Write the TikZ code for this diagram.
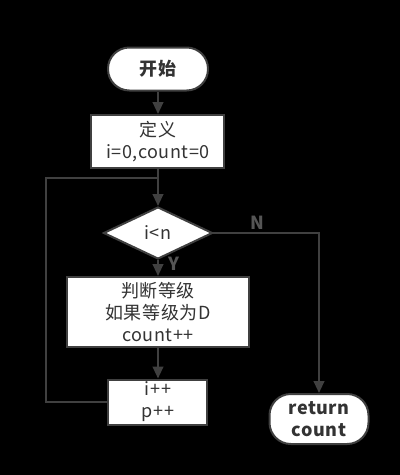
\documentclass[tikz,border=0pt]{standalone}
\usepackage{fontspec}
\setmainfont{Noto Sans CJK SC}[LetterSpace=3]
\usetikzlibrary{shapes.geometric,arrows.meta,positioning}

\definecolor{linegray}{HTML}{404040}
\definecolor{textgray}{HTML}{333333}
\definecolor{labelgray}{HTML}{555555}
\newcommand{\flowfont}{\fontsize{13.5}{16.5}\selectfont}

\tikzset{
  box/.style={draw=linegray, fill=white, line width=1.5pt, text=textgray,
    align=center, font=\flowfont, inner sep=0pt},
  term/.style={box, rounded corners=16pt, font=\flowfont\bfseries},
  decide/.style={box, diamond, aspect=2.1},
  wire/.style={draw=linegray, line width=1.5pt},
  flow/.style={wire, -{Triangle[width=8pt,length=9pt]}},
  lbl/.style={text=labelgray, font=\flowfont\bfseries, inner sep=0pt}
}

\begin{document}
\begin{tikzpicture}
    \fill[black] (-118.5pt,-304.5pt) rectangle (181.5pt,51.75pt);
    \useasboundingbox (-118.5pt,-304.5pt) rectangle (181.5pt,51.75pt);

    \node[term, minimum width=75pt, minimum height=32.25pt] (start) {开始};
    \node[box, below of=start, node distance=54.4pt,
          minimum width=99.75pt, minimum height=39.75pt] (init) {定义\\i=0,count=0};
    \node[decide, below of=init, node distance=68.6pt,
          minimum width=81.75pt, minimum height=39pt] (cond) {i<n};
    \node[box, below of=cond, node distance=59.25pt,
          minimum width=136.5pt, minimum height=52.5pt] (judge) {判断等级\\如果等级为D\\count++};
    \node[box, below of=judge, node distance=67.5pt,
          minimum width=74.25pt, minimum height=33.75pt] (inc) {i++\\p++};
    \node[term, right of=inc, node distance=120.75pt, yshift=-12.75pt,
          minimum width=74.25pt, minimum height=37.5pt] (ret) {return\\count};

    \coordinate[below=6.75pt of init.south] (join);
    \coordinate[left=45.75pt of inc.west] (back);

    \draw[flow] (start) -- (init);
    \draw[flow] (init) -- (cond);
    \draw[flow] (cond) -- (judge);
    \draw[flow] (judge) -- (inc);
    \draw[wire] (inc.west) -- (back) |- (join);
    \draw[flow] (cond.east) -| node[lbl, pos=0.21, above=2pt] (nlbl) {N} (ret.north);
    \node[lbl, anchor=west] (ylbl) at ([xshift=8pt,yshift=-3pt]cond.south) {Y};
\end{tikzpicture}
\end{document}
